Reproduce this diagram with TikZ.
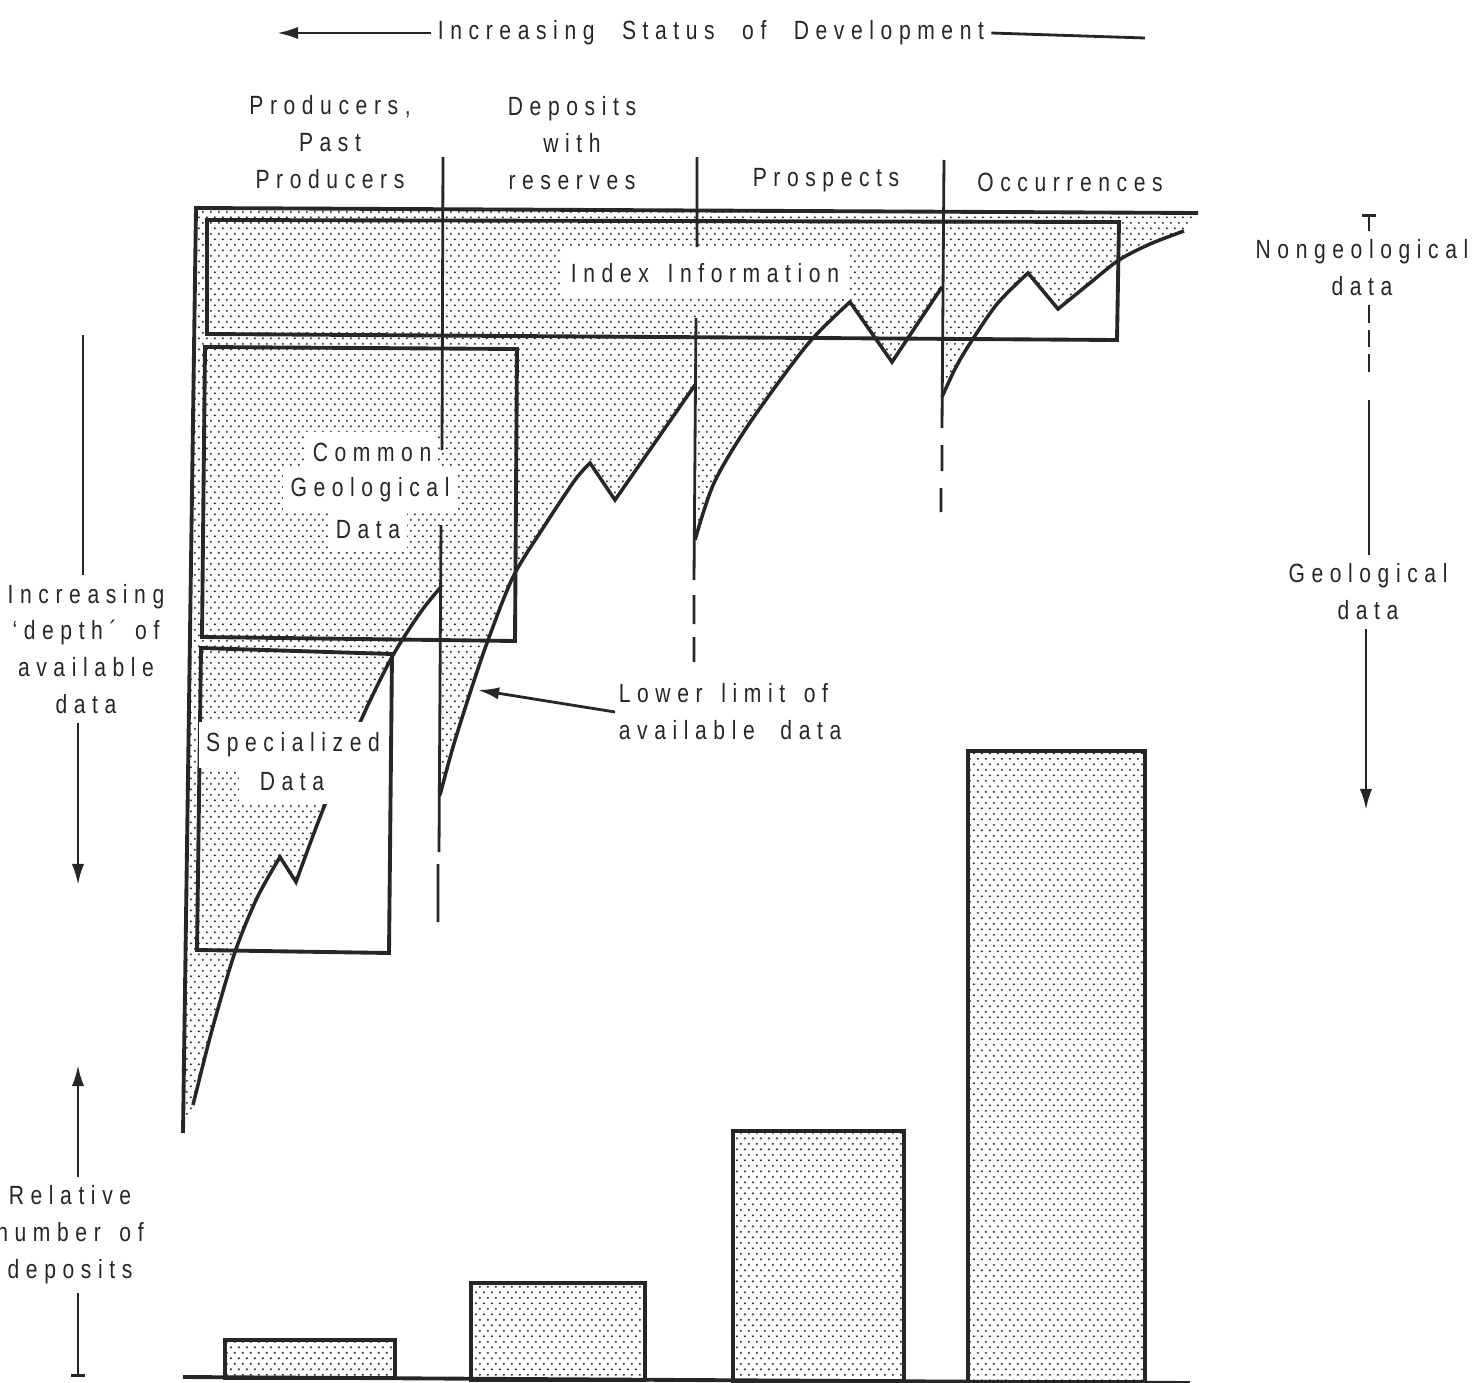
\documentclass[tikz,border=0pt]{standalone}
\usepackage{fontspec}
\setmainfont{Liberation Sans}[FakeStretch=0.8, LetterSpace=25, WordSpace=1.5]
\usetikzlibrary{patterns, arrows.meta}

\pgfdeclarepatternformonly{screen}{\pgfpointorigin}{\pgfpoint{4.5pt}{6.5pt}}{\pgfpoint{4.5pt}{6.5pt}}{%
  \pgfpathcircle{\pgfpoint{1.1pt}{1.6pt}}{0.68pt}%
  \pgfpathcircle{\pgfpoint{3.35pt}{4.85pt}}{0.68pt}%
  \pgfusepath{fill}}

\newcommand{\lowA}{-- plot[smooth] coordinates {(193,1105) (212,1030) (235,952) (257,898) (280,857)} -- (296,882) -- plot[smooth] coordinates {(296,882) (324,807) (362,718) (392,657) (420,613) (440,588)}}
\newcommand{\lowB}{-- plot[smooth] coordinates {(440,795) (453,747) (470,693) (487,643) (513,577) (545,525) (575,480) (590,463)} -- (615,500) -- (695,385)}
\newcommand{\lowC}{-- plot[smooth] coordinates {(695,540) (714,483) (749,424) (807,345) (850,302)} -- (892,362) -- (942,287)}
\newcommand{\lowD}{-- plot[smooth] coordinates {(942,397) (955,369) (969,345) (997,304) (1028,273)} -- (1058,309) -- plot[smooth] coordinates {(1058,309) (1090,283) (1119,260) (1150,244) (1184,231)}}

\begin{document}
\begin{tikzpicture}[x=0.2mm, y=-0.2mm,
  every node/.style={font=\fontsize{15}{21}\selectfont, text=black!85, inner sep=2pt, align=center},
  patch/.style={fill=white, inner xsep=4pt, inner ysep=6pt},
  side/.style={inner ysep=5pt},
  dotfill/.style={pattern=screen, pattern color=black!80},
  boxline/.style={draw=black!85, line width=2.2pt},
  limit/.style={draw=black!85, line width=2pt},
  divline/.style={draw=black!85, line width=1.6pt},
  arrline/.style={draw=black!85, line width=1.6pt},
  arr/.style={arrline, -{Latex[length=12pt, width=7pt]}}]
\useasboundingbox (0,0) rectangle (1482,1383);

\fill[dotfill] (196,208) -- (183,1133) \lowA -- (440,795) \lowB -- (695,540) \lowC -- (942,397) \lowD -- (1198,213) -- cycle;

\draw[boxline] (207,220) -- (1119,222) -- (1117,340) -- (207,334) -- cycle;
\draw[boxline] (205,347) -- (517,349) -- (515,641) -- (202,637) -- cycle;
\draw[boxline] (201,648) -- (392,654) -- (389,953) -- (197,950) -- cycle;
\draw[boxline] (1198,213) -- (196,208) -- (183,1133);

\draw[limit] (193,1105) \lowA (440,795) \lowB (695,540) \lowC (942,397) \lowD;

\draw[divline] (443,157) -- (442,450) (441,525) -- (439,852) (438,864) -- (438,922);
\draw[divline] (697,157) -- (697,247) (696,318) -- (694,580) (694,595) -- (694,624) (694,637) -- (694,662);
\draw[divline] (944,160) -- (942,428) (942,445) -- (942,471) (941,488) -- (941,512);

\node[inner xsep=4pt] (title) at (711,33) {Increasing\hspace{5pt} Status\hspace{5pt} of\hspace{5pt} Development};
\coordinate (tl) at (277,33);
\coordinate (tr) at (1145,38);
\draw[arr] (title.west) -- (tl);
\draw[arrline] (title.east) -- (tr);

\node (prod) at (330,142) {Producers,\\Past\\Producers};
\node (depo) at (572,143) {Deposits\\with\\reserves};
\node (prosp) at (826,180) {Prospects};
\node (occ) at (1070,182) {Occurrences};

\node[patch, inner xsep=5pt, inner ysep=9pt] (index) at (705,273) {Index Information};
\node[patch] (common) at (372,452) {Common};
\node[patch] (geol) at (370,490) {Geological};
\node[patch] (cdata) at (368,530) {Data};
\node[patch] (spec) at (293,745) {Specialized};
\node[patch, inner xsep=12pt, inner ysep=7pt] (sdata) at (292,782) {Data};

\node[anchor=west, align=left] (lower) at (615,712) {Lower limit of\\available\hspace{4pt} data};
\coordinate (lowtip) at (478,690);
\draw[arr] (lower.west) -- (lowtip);

\node[side] (nongeo) at (1362,268) {Nongeological\\data};
\node[side] (geodata) at (1368,592) {Geological\\data};
\coordinate (ngtop) at (1369,214);
\coordinate (ngdash) at (1369,376);
\coordinate (ngsolid) at (1369,400);
\coordinate (geobot) at (1366,810);
\draw[arrline, -{Bar[width=8pt]}] (nongeo.north -| ngtop) -- (ngtop);
\draw[arrline, dash pattern=on 10pt off 4pt] (nongeo.south -| ngtop) -- (ngdash);
\draw[arrline] (ngsolid) -- (geodata.north -| ngsolid);
\draw[arr] (geodata.south -| geobot) -- (geobot);

\node[side] (depth) at (86,649) {Increasing\\\symbol{"60}depth\symbol{"B4} of\\available\\data};
\coordinate (deptop) at (83,335);
\coordinate (depbot) at (78,885);
\draw[arrline] (depth.north -| deptop) -- (deptop);
\draw[arr] (depth.south -| depbot) -- (depbot);

\node[side] (reln) at (70,1235) {Relative\\number of\\deposits};
\coordinate (reltop) at (78,1065);
\coordinate (relbot) at (78,1377);
\draw[arr] (reln.north -| reltop) -- (reltop);
\draw[arrline, -{Bar[width=8pt]}] (reln.south -| relbot) -- (relbot);

\draw[dotfill, boxline] (225,1378) rectangle (395,1340);
\draw[dotfill, boxline] (471,1380) rectangle (645,1283);
\draw[dotfill, boxline] (733,1381) rectangle (904,1131);
\draw[dotfill, boxline] (968,1382) rectangle (1145,751);
\draw[boxline] (183,1377) -- (1190,1383);
\end{tikzpicture}
\end{document}
